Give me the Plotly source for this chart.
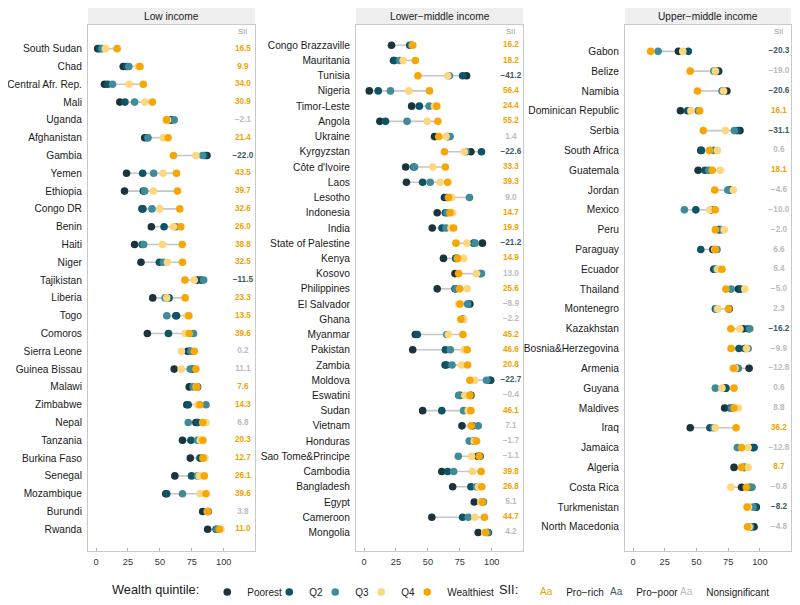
import plotly.graph_objects as go

# ---------------- data ----------------
panel_titles = ["Low income", "Lower\u2212middle income", "Upper\u2212middle income"]
quintile_names = ["Poorest", "Q2", "Q3", "Q4", "Wealthiest"]

low_countries = ["South Sudan", "Chad", "Central Afr. Rep.", "Mali", "Uganda", "Afghanistan", "Gambia",
                 "Yemen", "Ethiopia", "Congo DR", "Benin", "Haiti", "Niger", "Tajikistan", "Liberia", "Togo",
                 "Comoros", "Sierra Leone", "Guinea Bissau", "Malawi", "Zimbabwe", "Nepal", "Tanzania",
                 "Burkina Faso", "Senegal", "Mozambique", "Burundi", "Rwanda"]
low_poorest = [1.3, 21.3, 6.6, 18.6, 58.0, 38.1, 86.9, 23.9, 22.3, 36.0, 43.3, 30.2, 35.2, 79.5, 44.4, 63.0,
               40.2, 71.7, 61.2, 73.0, 71.1, 78.2, 67.7, 73.8, 61.7, 54.6, 83.5, 87.4]
low_q2 = [2.9, 23.9, 9.2, 22.6, 59.1, 40.2, 85.3, 36.5, 37.0, 36.7, 53.3, 36.2, 49.6, 82.2, 57.2, 62.5,
          56.7, 73.5, 75.6, 79.5, 72.2, 79.5, 74.3, 81.4, 74.8, 55.4, 87.9, 94.0]
low_q3 = [4.7, 25.7, 12.9, 30.2, 61.2, 40.7, 83.5, 45.1, 38.1, 43.8, 62.5, 37.3, 52.8, 84.3, 54.1, 55.4,
          76.4, 74.3, 73.8, 76.1, 86.1, 72.2, 79.5, 84.8, 79.5, 67.7, 86.9, 94.8]
low_q4 = [7.3, 33.0, 26.0, 38.3, 55.9, 52.5, 78.2, 52.5, 44.9, 49.9, 60.6, 52.0, 55.9, 76.9, 55.4, 71.7,
          69.6, 66.9, 66.7, 78.5, 79.5, 86.1, 81.6, 85.3, 80.8, 81.6, 87.4, 97.9]
low_wealthiest = [16.5, 34.4, 37.0, 44.1, 55.1, 56.4, 60.6, 63.0, 63.8, 65.6, 66.4, 67.5, 67.7, 69.6, 69.8,
                  72.7, 73.0, 76.9, 78.2, 79.0, 81.4, 83.5, 83.7, 83.7, 84.8, 86.1, 87.4, 96.6]
low_sii = [16.5, 9.9, 34.0, 30.9, -2.1, 21.4, -22.0, 43.5, 39.7, 32.6, 26.0, 38.8, 32.5, -11.5, 23.3, 13.5,
           39.6, 0.2, 11.1, 7.6, 14.3, 6.8, 20.3, 12.7, 26.1, 39.6, 3.8, 11.0]
low_sii_type = ["rich", "rich", "rich", "rich", "ns", "rich", "poor", "rich", "rich", "rich", "rich", "rich",
                "rich", "poor", "rich", "rich", "rich", "ns", "ns", "rich", "rich", "ns", "rich", "rich",
                "rich", "rich", "ns", "rich"]

lmi_countries = ["Congo Brazzaville", "Mauritania", "Tunisia", "Nigeria", "Timor-Leste", "Angola", "Ukraine",
                 "Kyrgyzstan", "C\u00f4te d'Ivoire", "Laos", "Lesotho", "Indonesia", "India", "State of Palestine",
                 "Kenya", "Kosovo", "Philippines", "El Salvador", "Ghana", "Myanmar", "Pakistan", "Zambia",
                 "Moldova", "Eswatini", "Sudan", "Vietnam", "Honduras", "Sao Tome&Principe", "Cambodia",
                 "Bangladesh", "Egypt", "Cameroon", "Mongolia"]
lmi_poorest = [21.5, 23.1, 80.3, 4.1, 37.3, 12.4, 55.2, 83.7, 32.6, 33.2, 63.0, 57.3, 53.4, 92.7, 62.2, 71.2,
               57.3, 82.9, 77.7, 40.2, 38.1, 63.5, 99.2, 83.7, 45.9, 76.7, 86.3, 88.9, 60.9, 69.4, 86.3, 53.1, 89.4]
lmi_q2 = [35.8, 23.8, 77.2, 11.1, 43.3, 16.8, 65.5, 92.0, 38.9, 45.9, 65.0, 63.7, 61.1, 85.8, 71.8, 90.9,
          71.2, 81.6, 77.2, 41.7, 63.7, 64.5, 98.4, 75.4, 60.9, 85.0, 85.8, 90.9, 65.5, 83.7, 92.0, 77.2, 97.4]
lmi_q3 = [37.3, 28.0, 66.8, 20.7, 51.0, 33.7, 67.4, 79.8, 39.6, 51.8, 82.6, 65.0, 64.2, 87.0, 72.8, 92.0,
          72.0, 81.1, 77.5, 64.8, 67.6, 68.9, 95.9, 74.1, 78.0, 89.4, 82.4, 73.8, 70.2, 88.1, 93.5, 81.6, 96.6]
lmi_q4 = [38.3, 30.6, 65.5, 35.0, 55.2, 49.5, 64.2, 78.5, 53.9, 59.6, 68.7, 69.4, 68.1, 80.6, 78.0, 88.1,
          80.6, 74.1, 78.0, 66.1, 78.5, 76.4, 86.8, 79.0, 81.6, 83.7, 86.3, 84.2, 85.0, 89.6, 91.5, 86.8, 94.6]
lmi_wealthiest = [38.0, 40.2, 42.2, 51.3, 57.0, 57.8, 58.5, 63.0, 63.7, 65.5, 66.2, 67.3, 70.2, 72.0, 73.3,
                  74.1, 74.9, 75.2, 75.8, 77.5, 80.8, 81.1, 82.9, 83.0, 83.7, 84.0, 88.1, 90.2, 91.7, 92.2,
                  92.7, 94.3, 95.3]
lmi_sii = [16.2, 18.2, -41.2, 56.4, 24.4, 55.2, 1.4, -22.6, 33.3, 39.3, 9.0, 14.7, 19.9, -21.2, 14.9, 13.0,
           25.6, -8.9, -2.2, 45.2, 46.6, 20.8, -22.7, -0.4, 46.1, 7.1, -1.7, -1.1, 39.8, 26.8, 5.1, 44.7, 4.2]
lmi_sii_type = ["rich", "rich", "poor", "rich", "rich", "rich", "ns", "poor", "rich", "rich", "ns", "rich",
                "rich", "poor", "rich", "ns", "rich", "ns", "ns", "rich", "rich", "rich", "poor", "ns", "rich",
                "ns", "ns", "ns", "rich", "rich", "ns", "rich", "ns"]

umi_countries = ["Gabon", "Belize", "Namibia", "Dominican Republic", "Serbia", "South Africa", "Guatemala",
                 "Jordan", "Mexico", "Peru", "Paraguay", "Ecuador", "Thailand", "Montenegro", "Kazakhstan",
                 "Bosnia&Herzegovina", "Armenia", "Guyana", "Maldives", "Iraq", "Jamaica", "Algeria",
                 "Costa Rica", "Turkmenistan", "North Macedonia"]
umi_poorest = [35.8, 67.5, 74.0, 37.4, 84.3, 53.4, 51.3, 76.5, 61.6, 67.5, 62.9, 63.7, 83.0, 75.8, 86.9, 88.1,
               91.5, 73.2, 72.2, 45.1, 94.6, 79.6, 85.6, 97.2, 95.4]
umi_q2 = [43.6, 66.2, 70.9, 43.0, 82.2, 53.9, 56.7, 75.8, 49.5, 68.3, 53.4, 64.2, 84.8, 64.9, 90.7, 83.5,
          81.7, 72.7, 76.5, 60.6, 95.4, 87.4, 92.0, 96.6, 93.3]
umi_q3 = [19.8, 63.7, 70.1, 51.3, 79.9, 63.7, 59.8, 74.7, 40.5, 70.1, 66.2, 65.7, 77.3, 65.7, 92.0, 90.7,
          83.0, 64.9, 77.8, 63.7, 82.2, 88.1, 93.8, 94.6, 92.5]
umi_q4 = [39.2, 64.9, 71.4, 45.6, 72.7, 66.5, 68.8, 79.1, 60.6, 71.9, 64.4, 66.8, 88.1, 66.8, 84.3, 89.4,
          80.4, 70.1, 83.0, 64.9, 90.7, 90.7, 77.1, 91.0, 91.5]
umi_wealthiest = [13.9, 45.1, 50.8, 52.6, 55.4, 60.3, 62.4, 64.4, 64.9, 64.9, 64.9, 70.1, 73.2, 75.3, 77.1,
                  77.3, 79.1, 79.6, 79.6, 81.2, 85.6, 85.6, 89.4, 89.9, 90.2]
umi_sii = [-20.3, -19.0, -20.6, 16.1, -31.1, 0.6, 18.1, -4.6, -10.0, -2.0, 6.6, 5.4, -5.0, 2.3, -16.2, -9.9,
           -12.8, 0.6, 8.8, 36.2, -12.8, 8.7, -0.8, -8.2, -4.8]
umi_sii_type = ["poor", "ns", "poor", "rich", "poor", "ns", "rich", "ns", "ns", "ns", "ns", "ns", "ns", "ns",
                "poor", "ns", "ns", "ns", "ns", "rich", "ns", "rich", "ns", "poor", "ns"]

sii_types = ["rich", "poor", "ns"]
sii_labels = ["Pro\u2212rich", "Pro\u2212poor", "Nonsignificant"]

# ---------------- styling ----------------
FONT = "Liberation Sans, Arial, sans-serif"
# the page puts the figure 8px in from the top-left corner of the 800x605 window
OFF = 8
W, H = 800 - OFF, 605 - OFF
quintile_colors = ["#1b343b", "#0d5467", "#3f8c98", "#fcd77d", "#f8a602"]
sii_colors = {"rich": "#f2a200", "poor": "#3b5a63", "ns": "#bcbcbc"}
line_color = "#c6c6c6"
frame_color = "#c9c9c9"
x_domains = [(88, 255), (356, 523), (625, 791)]   # window pixels
plot_top_px, plot_bot_px = 25, 551
strip_top_px = 8
pad_top, pad_bot = 1.33, 1.22
sii_x = 115
x_range = [-6.3, 124.5]


def px_x(X):
    return (X - OFF) / W


def px_y(Y):
    return (605 - Y) / H


panels = [
    (low_countries, [low_poorest, low_q2, low_q3, low_q4, low_wealthiest], low_sii, low_sii_type),
    (lmi_countries, [lmi_poorest, lmi_q2, lmi_q3, lmi_q4, lmi_wealthiest], lmi_sii, lmi_sii_type),
    (umi_countries, [umi_poorest, umi_q2, umi_q3, umi_q4, umi_wealthiest], umi_sii, umi_sii_type),
]

fig = go.Figure()
legend_widths = [17, 1, 1, 1, 0]
sii_legend_widths = [25, 25, 0]

for i, (countries, quint, sii, sii_type) in enumerate(panels):
    ax = "" if i == 0 else str(i + 1)
    xa, ya = "x" + ax, "y" + ax
    # connecting segments min -> max
    lx, ly = [], []
    for j, c in enumerate(countries):
        vals = [q[j] for q in quint]
        lx += [min(vals), max(vals), None]
        ly += [c, c, None]
    fig.add_trace(go.Scatter(x=lx, y=ly, mode="lines", line=dict(color=line_color, width=1.6),
                             showlegend=False, hoverinfo="skip", xaxis=xa, yaxis=ya))
    for k, name in enumerate(quintile_names):
        fig.add_trace(go.Scatter(
            x=quint[k], y=countries, mode="markers", name=name,
            marker=dict(color=quintile_colors[k], size=7.6, line=dict(width=0)),
            showlegend=(i == 0), legendgroup=name, legend="legend",
            legendwidth=legend_widths[k],
            xaxis=xa, yaxis=ya))
    for t in sii_types:
        idx = [j for j, s in enumerate(sii_type) if s == t]
        fig.add_trace(go.Scatter(
            x=[sii_x] * len(idx), y=[countries[j] for j in idx], mode="text",
            text=[f"{sii[j]:.1f}".replace("-", "\u2212") for j in idx],
            textfont=dict(family=FONT, size=8.2, color=sii_colors[t], weight="bold"),
            textposition="middle center", showlegend=False, hoverinfo="skip",
            xaxis=xa, yaxis=ya))

    n = len(countries)
    x0, x1 = x_domains[i]
    fig.update_layout(**{
        "xaxis" + ax: dict(domain=[px_x(x0), px_x(x1)], anchor=ya, range=x_range,
                           tickvals=[0, 25, 50, 75, 100], ticks="inside", ticklen=3,
                           tickcolor="#b5b5b5", tickwidth=1,
                           tickfont=dict(family=FONT, size=9.2, color="#333333"),
                           showgrid=False, zeroline=False, showline=True, mirror=True,
                           linecolor=frame_color, linewidth=1, fixedrange=True, automargin=False,
                           ticklabelstandoff=2),
        "yaxis" + ax: dict(domain=[px_y(plot_bot_px), px_y(plot_top_px)], anchor=xa, type="category",
                           categoryorder="array", categoryarray=countries,
                           range=[n - 1 + pad_bot, -pad_top], ticks="",
                           tickfont=dict(family=FONT, size=10.2, color="#1a1a1a"),
                           showgrid=False, zeroline=False, showline=True, mirror=True,
                           linecolor=frame_color, linewidth=1, fixedrange=True,
                           ticklabelstandoff=3, automargin=False),
    })
    # strip
    fig.add_shape(type="rect", xref="paper", yref="paper", x0=px_x(x0), x1=px_x(x1),
                  y0=px_y(plot_top_px), y1=px_y(strip_top_px), fillcolor="#efefef", line=dict(width=0),
                  layer="below")
    fig.add_annotation(xref="paper", yref="paper", x=px_x((x0 + x1) / 2),
                       y=px_y((plot_top_px + strip_top_px) / 2), text=panel_titles[i], showarrow=False,
                       font=dict(family=FONT, size=10.2, color="#1a1a1a"), xanchor="center", yanchor="middle")
    fig.add_annotation(xref=xa, yref="paper", x=sii_x, y=px_y(32), text="SII", showarrow=False,
                       font=dict(family=FONT, size=7.6, color="#9a9a9a"), xanchor="center", yanchor="middle")

# SII legend entries
for t, lab, lw in zip(sii_types, sii_labels, sii_legend_widths):
    fig.add_trace(go.Scatter(x=[None], y=[None], mode="text", text=["a"], name=lab,
                             textfont=dict(family=FONT, size=13, color=sii_colors[t]),
                             showlegend=True, legend="legend2", legendwidth=lw,
                             xaxis="x", yaxis="y", hoverinfo="skip"))

fig.update_layout(
    width=W, height=H,
    margin=dict(l=0, r=0, t=0, b=0, autoexpand=False),
    paper_bgcolor="white", plot_bgcolor="white",
    font=dict(family=FONT, color="#1a1a1a"),
    showlegend=True,
    legend=dict(orientation="h", x=px_x(110), xanchor="left", y=px_y(592), yanchor="middle",
                title=dict(text="Wealth quintile:", font=dict(family=FONT, size=12.8, color="#1a1a1a"),
                           side="left"),
                font=dict(family=FONT, size=10, color="#1a1a1a"), itemwidth=30, tracegroupgap=0,
                bgcolor="rgba(0,0,0,0)", traceorder="normal"),
    legend2=dict(orientation="h", x=px_x(497), xanchor="left", y=px_y(592), yanchor="middle",
                 title=dict(text="SII:", font=dict(family=FONT, size=12.8, color="#1a1a1a"), side="left"),
                 font=dict(family=FONT, size=10, color="#1a1a1a"), itemwidth=30, tracegroupgap=0,
                 bgcolor="rgba(0,0,0,0)"),
)

fig.write_html("out.html")
